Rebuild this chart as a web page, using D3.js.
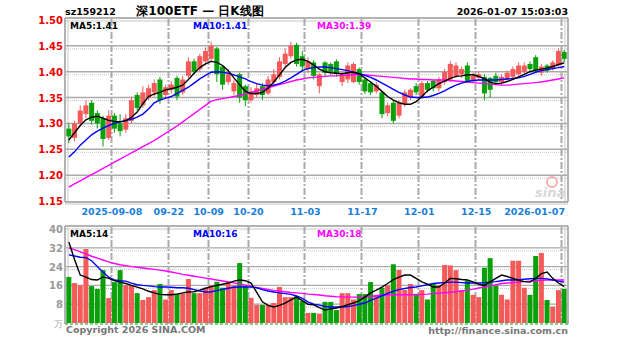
<!DOCTYPE html>
<html><head><meta charset="utf-8">
<script src="https://cdn.jsdelivr.net/npm/d3@7"></script>
<style>body{margin:0;background:#fff}svg{display:block}text{font-family:"DejaVu Sans",sans-serif}</style>
</head><body>
<script>
const dates = ["2025-08-27","2025-08-28","2025-08-29","2025-09-01","2025-09-02","2025-09-03","2025-09-04","2025-09-05",
"2025-09-08","2025-09-09","2025-09-10","2025-09-11","2025-09-12","2025-09-15","2025-09-16","2025-09-17","2025-09-18","2025-09-19",
"2025-09-22","2025-09-23","2025-09-24","2025-09-25","2025-09-26","2025-09-29","2025-09-30","2025-10-09","2025-10-10",
"2025-10-13","2025-10-14","2025-10-15","2025-10-16","2025-10-17","2025-10-20","2025-10-21","2025-10-22","2025-10-23","2025-10-24",
"2025-10-27","2025-10-28","2025-10-29","2025-10-30","2025-10-31","2025-11-03","2025-11-04","2025-11-05","2025-11-06","2025-11-07",
"2025-11-10","2025-11-11","2025-11-12","2025-11-13","2025-11-14","2025-11-17","2025-11-18","2025-11-19","2025-11-20","2025-11-21",
"2025-11-24","2025-11-25","2025-11-26","2025-11-27","2025-11-28","2025-12-01","2025-12-02","2025-12-03","2025-12-04","2025-12-05",
"2025-12-08","2025-12-09","2025-12-10","2025-12-11","2025-12-12","2025-12-15","2025-12-16","2025-12-17","2025-12-18","2025-12-19",
"2025-12-22","2025-12-23","2025-12-24","2025-12-25","2025-12-26","2025-12-29","2025-12-30","2025-12-31","2026-01-05","2026-01-06","2026-01-07"];

const open  = [1.290,1.272,1.300,1.318,1.340,1.320,1.310,1.272,1.315,1.300,1.288,1.305,1.355,1.335,1.350,1.360,1.385,1.355,1.365,1.388,1.360,1.392,1.420,1.405,1.420,1.425,1.445,1.410,1.380,1.362,1.395,1.372,1.345,1.355,1.372,1.358,1.380,1.390,1.415,1.430,1.452,1.430,1.405,1.418,1.372,1.418,1.415,1.420,1.380,1.385,1.380,1.405,1.385,1.378,1.362,1.360,1.320,1.340,1.315,1.338,1.350,1.372,1.350,1.378,1.382,1.368,1.380,1.385,1.392,1.395,1.412,1.382,1.388,1.390,1.388,1.392,1.380,1.385,1.390,1.395,1.400,1.415,1.428,1.398,1.412,1.405,1.412,1.438];
const high  = [1.300,1.305,1.335,1.345,1.345,1.325,1.315,1.325,1.320,1.318,1.318,1.352,1.360,1.372,1.375,1.385,1.390,1.375,1.382,1.392,1.392,1.428,1.425,1.435,1.447,1.458,1.448,1.412,1.405,1.385,1.398,1.375,1.370,1.378,1.378,1.392,1.405,1.428,1.445,1.458,1.456,1.440,1.428,1.422,1.398,1.420,1.418,1.424,1.400,1.418,1.418,1.408,1.388,1.382,1.380,1.362,1.340,1.345,1.345,1.365,1.368,1.378,1.382,1.382,1.385,1.390,1.405,1.420,1.418,1.410,1.418,1.398,1.400,1.395,1.390,1.398,1.395,1.402,1.410,1.418,1.418,1.420,1.432,1.415,1.415,1.422,1.445,1.442];
const low   = [1.262,1.265,1.295,1.310,1.298,1.290,1.255,1.268,1.282,1.275,1.282,1.300,1.325,1.330,1.345,1.352,1.338,1.350,1.358,1.345,1.355,1.388,1.395,1.400,1.412,1.420,1.380,1.365,1.375,1.355,1.340,1.333,1.340,1.350,1.345,1.355,1.372,1.385,1.410,1.425,1.410,1.400,1.398,1.385,1.358,1.392,1.394,1.390,1.372,1.378,1.378,1.375,1.357,1.355,1.358,1.310,1.314,1.300,1.310,1.332,1.345,1.355,1.348,1.360,1.362,1.362,1.375,1.380,1.388,1.388,1.378,1.378,1.383,1.345,1.350,1.375,1.375,1.380,1.386,1.390,1.396,1.400,1.398,1.392,1.398,1.402,1.410,1.418];
const close = [1.275,1.300,1.325,1.335,1.305,1.300,1.270,1.315,1.290,1.285,1.310,1.345,1.330,1.360,1.368,1.378,1.345,1.370,1.375,1.352,1.385,1.420,1.400,1.430,1.440,1.450,1.395,1.375,1.395,1.378,1.350,1.345,1.362,1.368,1.355,1.385,1.395,1.420,1.435,1.450,1.415,1.410,1.420,1.392,1.395,1.398,1.400,1.396,1.395,1.412,1.415,1.380,1.362,1.360,1.375,1.318,1.335,1.305,1.340,1.360,1.365,1.360,1.378,1.365,1.368,1.385,1.400,1.415,1.412,1.405,1.380,1.392,1.395,1.358,1.365,1.380,1.390,1.398,1.405,1.412,1.412,1.405,1.402,1.410,1.402,1.418,1.440,1.425];

const ma5  = [1.268,1.282,1.296,1.307,1.312,1.314,1.310,1.306,1.304,1.303,1.305,1.312,1.322,1.338,1.352,1.357,1.360,1.365,1.367,1.370,1.374,1.385,1.397,1.408,1.415,1.420,1.418,1.412,1.402,1.388,1.375,1.362,1.358,1.358,1.360,1.368,1.380,1.394,1.408,1.418,1.423,1.424,1.420,1.413,1.405,1.400,1.398,1.397,1.396,1.398,1.399,1.396,1.388,1.380,1.372,1.362,1.352,1.345,1.340,1.337,1.337,1.342,1.352,1.363,1.370,1.377,1.382,1.387,1.391,1.392,1.394,1.394,1.391,1.386,1.380,1.377,1.378,1.381,1.385,1.390,1.395,1.400,1.403,1.405,1.407,1.410,1.414,1.417];
const ma10 = [1.235,1.245,1.258,1.268,1.278,1.285,1.291,1.296,1.300,1.303,1.306,1.308,1.312,1.318,1.328,1.340,1.345,1.349,1.352,1.358,1.364,1.370,1.378,1.386,1.393,1.399,1.400,1.399,1.397,1.394,1.390,1.386,1.381,1.377,1.374,1.373,1.374,1.377,1.382,1.388,1.395,1.402,1.406,1.408,1.409,1.409,1.408,1.406,1.404,1.402,1.399,1.396,1.393,1.389,1.384,1.378,1.372,1.366,1.360,1.355,1.351,1.350,1.350,1.351,1.354,1.358,1.363,1.369,1.374,1.378,1.381,1.383,1.384,1.384,1.384,1.384,1.385,1.386,1.387,1.388,1.391,1.395,1.399,1.402,1.404,1.406,1.408,1.410];
const ma30 = [1.177,1.183,1.189,1.195,1.201,1.207,1.213,1.219,1.225,1.231,1.237,1.243,1.249,1.255,1.261,1.267,1.274,1.281,1.288,1.295,1.303,1.311,1.319,1.327,1.335,1.343,1.346,1.348,1.350,1.352,1.354,1.357,1.360,1.363,1.366,1.369,1.372,1.375,1.378,1.381,1.384,1.386,1.388,1.389,1.390,1.391,1.392,1.392,1.393,1.393,1.394,1.394,1.394,1.393,1.392,1.391,1.390,1.389,1.388,1.387,1.386,1.386,1.385,1.385,1.384,1.384,1.384,1.383,1.382,1.381,1.380,1.379,1.378,1.377,1.376,1.375,1.374,1.374,1.375,1.376,1.377,1.378,1.379,1.380,1.382,1.384,1.386,1.388];

const volume = [19.6,17,16,31.5,15.7,14.5,22.5,10.6,17.4,22.5,16,16,12.7,9.8,11,14,16.6,10,14,12.5,12.5,18.7,12.7,12.7,15,16,17.5,15,17.5,16,25.5,16,10.7,7.7,7.7,7.7,8.5,15.3,11,11,11.5,9.3,4.3,4.3,4,9,9,5.5,12.7,12.7,10,12.3,12.3,17.4,12,15,16,25,22.6,14,16.6,12,14,10,16.6,16,24.7,24.5,22.5,14,18,12,11,23.5,27.6,16,12,10,26.5,26.5,15,12,28.5,29.8,9.8,7,14,14.5];
const vma5  = [34.5,27,20.4,19.5,18.5,18.3,19.6,19,18,17.4,16.8,16,15.3,14.5,13.5,12.8,12.2,12,12,12.3,12.8,13.2,13.3,14,14.8,15.5,16,16.5,17,17.8,18.3,18,17,13,9,7.5,6.8,7.5,8.5,9.8,11,9.5,8,7.7,6.5,5.5,6,6.4,7,7.8,8.5,9.5,11,12.8,14,15.3,16.8,18.5,19.5,20.4,20.4,19,17.5,16.5,15.3,15.3,17,19,18.8,18.5,18.3,17.5,16.5,16,17.5,19,20.4,19.8,19,18.2,17.6,17.4,19,21,21.7,19,17,15.5];
const vma10 = [29,28.5,28,27.8,26.5,24,21.7,19.5,18.3,18,17.8,17,16.3,16,15.8,15.5,15.3,15.3,15.2,15,15,14.8,14.2,13.6,13.2,13.3,13.8,14.3,14.8,15.2,15.3,15.3,15.3,15,14.2,13.6,13.2,12.8,12.5,12.2,11.5,10.5,9,8,7.6,7,6.8,6.8,6.8,7,7.4,8,8.5,9.6,10.6,11.6,12.6,13.5,14.2,14.7,15.1,15.3,15.8,16.3,16.8,17,17.2,17.4,17.4,17.2,17,17,17,17.2,17.4,17.6,18,18.3,18.3,18.4,18.6,18.8,19,19,18.8,18.3,17.8,17.4];
const vma30 = [32,31.2,30.3,29.4,28.4,27.6,26.8,26,25.3,24.8,24.4,24,23.7,23.4,23.1,22.8,22.5,22.1,21.7,21.2,20.7,20.3,19.9,19.5,19.1,18.7,18.3,17.9,17.5,17.1,16.6,16.1,15.6,15.1,14.7,14.3,13.9,13.6,13.3,13,12.8,12.6,12.3,12.1,11.9,11.6,11.4,11.2,11.1,11,11,11,11.1,11.3,11.6,11.9,12,12,12,12,12,12.1,12.2,12.3,12.5,12.7,12.9,13.1,13.3,13.6,14,14.4,14.9,15.3,15.8,16.3,16.8,17,17.2,17.4,17.6,17.8,18,18.2,18.3,18.3,18.3,18.3];

const priceTicks = [1.15,1.20,1.25,1.30,1.35,1.40,1.45,1.50];
const volTicks = [8,16,24,32,40];
const tickDates  = ["2025-09-08","2025-09-22","2025-10-09","2025-10-20","2025-11-03","2025-11-17","2025-12-01","2025-12-15","2026-01-07"];
const tickLabels = ["2025-09-08","09-22","10-09","10-20","11-03","11-17","12-01","12-15","2026-01-07"];

const W=627,H=342;
const RED="#f55a5a", GREEN="#0aa00a", GRID="#aaaaaa";
const svg=d3.select("body").append("svg").attr("width",W).attr("height",H);

const x=d3.scaleBand().domain(dates).range([66,567]).paddingInner(0.12).paddingOuter(0.06);
const step=x.step();
const xc=d=>x(d)+x.bandwidth()/2;
const y=d3.scaleLinear().domain([1.15,1.50]).range([201,20]);
const yv=d3.scaleLinear().domain([0,40]).range([323,229]);

// frames
function frame(top,bottom,greenBottom){
  const g=svg.append("g");
  g.append("line").attr("x1",65).attr("x2",568).attr("y1",top).attr("y2",top).attr("stroke","#9a9a9a").attr("stroke-width",1.5);
  g.append("line").attr("x1",65).attr("x2",568).attr("y1",top+3).attr("y2",top+3).attr("stroke","#c8c8c8");
  g.append("line").attr("x1",65).attr("x2",65).attr("y1",top).attr("y2",bottom).attr("stroke","#9a9a9a").attr("stroke-width",1.5);
  g.append("line").attr("x1",68).attr("x2",68).attr("y1",top).attr("y2",bottom).attr("stroke","#c8c8c8");
  g.append("line").attr("x1",568).attr("x2",568).attr("y1",top).attr("y2",bottom).attr("stroke","#9a9a9a").attr("stroke-width",1.5);
  g.append("line").attr("x1",565).attr("x2",565).attr("y1",top).attr("y2",bottom).attr("stroke","#c8c8c8");
  if(greenBottom){
    g.append("line").attr("x1",65).attr("x2",568).attr("y1",bottom).attr("y2",bottom).attr("stroke","#0aa00a").attr("stroke-dasharray","3,2");
  } else {
    g.append("line").attr("x1",65).attr("x2",568).attr("y1",bottom).attr("y2",bottom).attr("stroke","#9a9a9a").attr("stroke-width",1.5);
    g.append("line").attr("x1",65).attr("x2",568).attr("y1",bottom+2).attr("y2",bottom+2).attr("stroke","#c8c8c8");
  }
}
frame(18,202,false);
frame(226,324,true);

// horizontal grid
const gp=svg.append("g");
priceTicks.filter(t=>t>1.15&&t<1.50).forEach(t=>{
  gp.append("line").attr("x1",66).attr("x2",567).attr("y1",y(t)).attr("y2",y(t)).attr("stroke",GRID).attr("stroke-width",1.5);
  gp.append("line").attr("x1",66).attr("x2",567).attr("y1",y(t)+3).attr("y2",y(t)+3).attr("stroke","#c4c4c4").attr("stroke-dasharray","1,1");
});
volTicks.filter(t=>t<40).forEach(t=>{
  gp.append("line").attr("x1",66).attr("x2",567).attr("y1",yv(t)).attr("y2",yv(t)).attr("stroke",GRID).attr("stroke-width",1.2);
  gp.append("line").attr("x1",66).attr("x2",567).attr("y1",yv(t)+3).attr("y2",yv(t)+3).attr("stroke","#c4c4c4").attr("stroke-dasharray","1,1");
});
// vertical grid
tickDates.forEach(d=>{
  const xx=Math.round(x(d))-0.5;
  [[19,202],[227,324]].forEach(([a,b])=>{
    gp.append("line").attr("x1",xx).attr("x2",xx).attr("y1",a).attr("y2",b).attr("stroke",GRID).attr("stroke-width",2).attr("stroke-dasharray","7,2,2,2");
  });
});

// candles
const gc=svg.append("g");
dates.forEach((d,i)=>{
  const up=close[i]>=open[i], col=up?RED:GREEN;
  gc.append("line").attr("x1",xc(d)).attr("x2",xc(d)).attr("y1",y(high[i])).attr("y2",y(low[i])).attr("stroke",col).attr("stroke-width",1);
  const t=y(Math.max(open[i],close[i])), b=y(Math.min(open[i],close[i]));
  gc.append("rect").attr("x",x(d)).attr("width",x.bandwidth()).attr("y",t).attr("height",Math.max(1,b-t)).attr("fill",col);
  gc.append("rect").attr("x",x(d)).attr("width",x.bandwidth()).attr("y",yv(volume[i])).attr("height",yv(0)-yv(volume[i])).attr("fill",col);
});

// MA lines
function ma(arr,sc,color){
  svg.append("path").datum(arr).attr("fill","none").attr("stroke",color).attr("stroke-width",1.4)
    .attr("d",d3.line().x((v,i)=>xc(dates[i])).y(v=>sc(v)));
}
ma(ma30,y,"#ff00ff");ma(ma10,y,"#0000ff");ma(ma5,y,"#000000");
ma(vma30,yv,"#ff00ff");ma(vma10,yv,"#0000ff");ma(vma5,yv,"#000000");

// axis labels
const fb="bold";
priceTicks.forEach(t=>{
  svg.append("text").attr("x",63).attr("y",y(t)+4).attr("text-anchor","end").attr("font-size",10).attr("font-weight",fb).attr("fill","#ee0000").text(t.toFixed(2));
});
volTicks.forEach(t=>{
  svg.append("text").attr("x",63).attr("y",yv(t)+4).attr("text-anchor","end").attr("font-size",10).attr("font-weight",fb).attr("fill","#999").text(t);
});
svg.append("text").attr("x",63).attr("y",yv(0)+4).attr("text-anchor","end").attr("font-size",9).attr("fill","#aaa").text("万");
tickDates.forEach((d,i)=>{
  const last=i===tickDates.length-1;
  svg.append("text").attr("x",last?565:x(d)).attr("y",215).attr("text-anchor",last?"end":"middle")
    .attr("font-size",9.5).attr("font-weight",fb).attr("fill","#1a7ed6").text(tickLabels[i]);
});

// legends
function t(xp,yp,s,c,fs,anchor,w){svg.append("text").attr("x",xp).attr("y",yp).attr("font-size",fs||9).attr("font-weight",w||"bold").attr("fill",c).attr("text-anchor",anchor||"start").text(s);}
t(70,29,"MA5:1.41","#000");
t(193,29,"MA10:1.41","#0000ff");
t(317,29,"MA30:1.39","#ff00ff");
t(70,237,"MA5:14","#000");
t(193,237,"MA10:16","#0000ff");
t(317,237,"MA30:18","#ff00ff");
t(65,15,"sz159212","#000",9.5);
t(200,15,"深100ETF — 日K线图","#000",12,"middle");
t(568,15,"2026-01-07 15:03:03","#000",9.5,"end");
t(66,333,"Copyright 2026 SINA.COM","#777",9.5,"start","bold");
t(568,334,"http://finance.sina.com.cn","#777",9.5,"end","bold");
// watermark
svg.append("circle").attr("cx",552).attr("cy",182).attr("r",5).attr("fill","none").attr("stroke","#f3b0b0").attr("stroke-width",2);
svg.append("text").attr("x",535).attr("y",197).attr("font-size",13).attr("font-style","italic").attr("font-weight","bold").attr("fill","#d8d8d8").text("sina");
</script>
</body></html>
